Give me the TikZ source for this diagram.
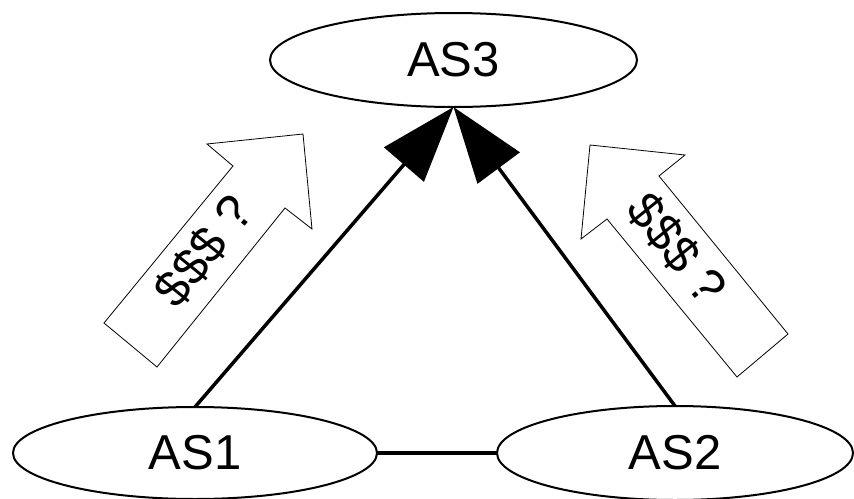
\documentclass[tikz,border=0pt]{standalone}
\usepackage{fontspec}
\setmainfont{Liberation Sans}
\usetikzlibrary{shapes.geometric,arrows.meta}
\tikzset{
  as/.style={draw,ellipse,line width=2pt,inner sep=0pt,outer sep=0pt,font=\fontsize{49}{58}\selectfont},
  link/.style={line width=3.5pt},
  up/.style={link,-{Triangle[length=76pt,width=52pt]}},
  money/.style={draw,line width=0.8pt},
  cash/.style={font=\fontsize{50}{60}\selectfont}
}
\begin{document}
\begin{tikzpicture}[x=1pt,y=-1pt]
    \useasboundingbox (0,0) rectangle (854,498);
    \node[as,minimum width=367pt,minimum height=94pt] (as3) at (453.5,60) {AS3};
    \node[as,minimum width=364pt,minimum height=92pt] (as1) at (195,453) {AS1};
    \node[as,minimum width=356pt,minimum height=94pt] (as2) at (675,453) {AS2};
    \draw[up] (as1.north) -- (as3.south);
    \draw[up] (as2.north) -- (as3.south);
    \draw[link] (as1.east) -- (as2.west);
    \draw[money] (303,134) -- (312,229) -- (285,208) -- (157,367) -- (104,323) -- (233,166) -- (207,144) -- cycle;
    \draw[money] (590,145) -- (685,155) -- (659,176) -- (788,334) -- (737,377) -- (607,219) -- (581,239) -- cycle;
    \node[cash,rotate=51] (payL) at (204,251) {\$\$\$ ?};
    \node[cash,rotate=-51] (payR) at (677,249) {\$\$\$ ?};
\end{tikzpicture}
\end{document}
